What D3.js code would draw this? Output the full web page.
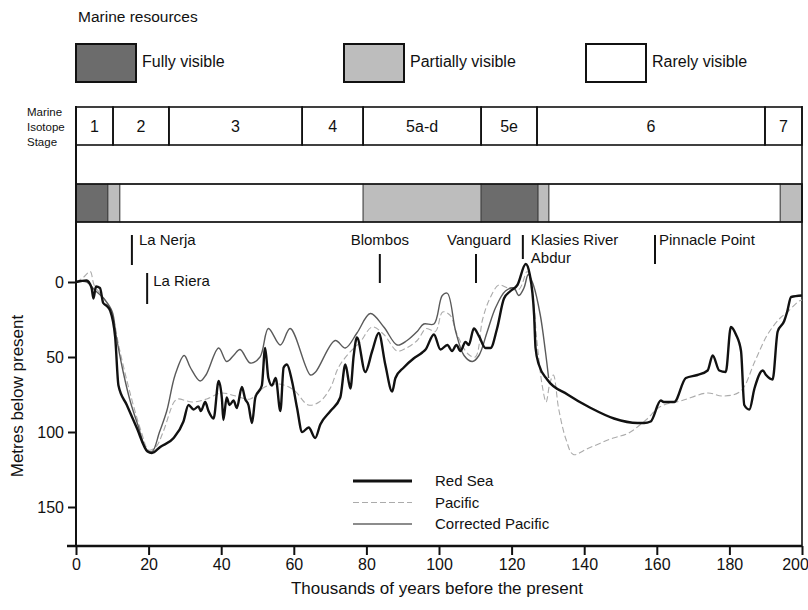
<!DOCTYPE html>
<html>
<head>
<meta charset="utf-8">
<script src="https://cdn.jsdelivr.net/npm/d3@7"></script>
<style>
  body { margin: 0; background: #fff; }
  text { font-family: "Liberation Sans", Arial, sans-serif; fill: #111; }
</style>
</head>
<body>
<div id="chart"></div>
<script>
// ---------------- data ----------------
var redSeaAge   = [0, 2.9, 4.3, 4.8, 5.5, 6.6, 7.5, 8.5, 9.4, 10.8, 11.7, 14, 16.7, 19.7, 20.9, 23.2, 26.9, 29.6, 31, 32.4, 33.7, 34.4, 35.6, 36.5, 37.9, 39.3, 40.2, 40.6, 41.5, 42.3, 43.4, 44.3, 45.7, 46.6, 47.5, 48.5, 49.4, 51.2, 52.1, 53, 54, 55, 56.3, 57.2, 58.1, 59.5, 60.9, 62.3, 64.1, 65.9, 67.3, 70.1, 72.8, 74.2, 75.6, 76.5, 77.4, 79.7, 81.6, 83.4, 85.2, 87.1, 88, 90.3, 93, 95.4, 96.3, 98.6, 100.4, 102.3, 103.6, 104.8, 105.9, 107.3, 108.2, 109.6, 111, 112.8, 114.2, 116, 117.9, 119.7, 121.6, 123.9, 125, 126.2, 126.6, 127.5, 129.8, 135.4, 141.8, 148.2, 154.7, 156.5, 158.3, 161.1, 161.9, 164.8, 168, 171.2, 174, 175.4, 177.2, 179, 180.4, 181.8, 183.2, 184.1, 185.5, 186.9, 189.2, 190.1, 191.9, 193.3, 195.1, 195.9, 197, 200];
var redSeaDepth = [0, -1, 4, 11, 3, 4, 14, 16, 19, 37, 69, 82, 97, 113, 114, 110, 104, 93, 82, 85, 83, 86, 80, 86, 91, 66, 78, 92, 77, 82, 79, 84, 70, 78, 82, 94, 77, 69, 44, 64, 69, 64, 86, 57, 55, 66, 84, 100, 97, 104, 95, 86, 77, 55, 71, 49, 37, 60, 46, 34, 55, 73, 64, 57, 51, 47, 45, 35, 45, 42, 46, 42, 46, 40, 42, 31, 36, 44, 44, 31, 11, 6, 2, -12, -5, 22, 44, 55, 65, 75, 84, 91, 94, 94, 93, 79, 80, 80, 64, 62, 59, 49, 59, 60, 30, 35, 46, 82, 85, 71, 59, 62, 65, 33, 26, 20, 10, 9];

var pacificAge   = [0, 2, 3.9, 5, 8, 10, 12, 15, 18, 20, 22, 24, 27, 28, 32, 36, 40, 44, 48, 52, 56, 60, 64, 67, 70, 72.3, 75, 78.3, 81.6, 84.8, 88.5, 91, 94, 96.5, 99, 101, 103, 105, 108, 110, 112, 114, 116.5, 119, 122, 124.3, 125.9, 127, 128.5, 129.5, 130.5, 131.5, 133, 135, 137, 141, 148, 152, 157, 161, 167, 174, 178, 183, 187, 190.5, 194, 196, 199, 200];
var pacificDepth = [0, -3, -7, 2, 12, 22, 45, 75, 100, 112, 110, 100, 80, 78, 80, 78, 74, 76, 78, 70, 68, 72, 82, 80, 71, 57, 48, 40, 30, 35, 46, 44, 39, 31, 33, 20, 22, 35, 48, 50, 25, 11, 2, 4, 5, -7, 11, 40, 70, 80, 68, 62, 85, 105, 115, 111, 104, 101, 92, 83, 79, 74, 76, 73, 53, 35, 24, 20, 13, 12];

var correctedAge   = [0, 3, 5, 8, 10, 11, 13, 15, 17, 19.5, 21, 23, 25, 27.3, 29.8, 31.5, 34.2, 35.8, 39.3, 41.5, 43.4, 45.2, 48, 50.7, 53, 56.3, 59, 64.6, 66, 71.4, 74.2, 77.4, 81.1, 84.8, 88.5, 91.2, 94, 95.8, 98.6, 100.9, 102.3, 104.6, 106.9, 109.2, 111, 113.3, 115.6, 118.3, 120.6, 122, 123.4, 124.6, 126, 127.9, 129.3, 130.2];
var correctedDepth = [0, 0, 5, 12, 20, 35, 60, 80, 95, 112, 113, 100, 86, 62, 49, 57, 66, 62, 44, 53, 49, 45, 54, 50, 31, 42, 31, 62, 60, 39, 44, 34, 21, 30, 42, 39, 33, 28, 28, 9, 7.5, 33, 49, 53, 49, 33, 17, 6, 4, 9, 4, -5, 2, 22, 46, 64];

var stageBounds = [0, 10.2, 25.6, 62.3, 79.1, 111.6, 127, 189.8, 200];
var stageLabels = ["1", "2", "3", "4", "5a-d", "5e", "6", "7"];

var visStart = [0, 8.8, 12.1, 79.1, 111.6, 127.3, 130.3, 194];
var visEnd   = [8.8, 12.1, 79.1, 111.6, 127.3, 130.3, 194, 200];
var visLevel = ["Fully visible", "Partially visible", "Rarely visible", "Partially visible", "Fully visible", "Partially visible", "Rarely visible", "Partially visible"];

var siteNames = ["La Nerja", "La Riera", "Blombos", "Vanguard", "Klasies River", "Pinnacle Point"];
var siteAge   = [15.4, 19.6, 83.7, 110.2, 123.1, 159.5];

var yTicks = [0, 50, 100, 150];
var xTicks = [0, 20, 40, 60, 80, 100, 120, 140, 160, 180, 200];

// ---------------- setup ----------------
var width = 808, height = 610;
var svg = d3.select("#chart").append("svg")
    .attr("width", width)
    .attr("height", height);

var x = d3.scaleLinear().domain([0, 200]).range([76, 802]);
var y = d3.scaleLinear().domain([0, 150]).range([282, 507]);
var axisY = 546;

var visColor = d3.scaleOrdinal()
    .domain(["Fully visible", "Partially visible", "Rarely visible"])
    .range(["#6c6c6c", "#bdbdbd", "#ffffff"]);

//---------- legend (marine resources) ----------
svg.append("text")
    .attr("x", 78).attr("y", 22)
    .style("font-size", "15.5px")
    .text("Marine resources");

var legX = [76, 344, 586];
visColor.domain().forEach(function(d, i) {
    svg.append("rect")
        .attr("x", legX[i]).attr("y", 44)
        .attr("width", 60).attr("height", 38)
        .attr("fill", visColor(d))
        .attr("stroke", "#111").attr("stroke-width", 2);
    svg.append("text")
        .attr("x", legX[i] + 66).attr("y", 67)
        .style("font-size", "16px")
        .text(d);
});

//---------- marine isotope stages ----------
var mis = svg.append("g");
mis.selectAll("rect")
    .data(stageLabels)
    .join("rect")
    .attr("x", (d, i) => x(stageBounds[i]))
    .attr("y", 107)
    .attr("width", (d, i) => x(stageBounds[i + 1]) - x(stageBounds[i]))
    .attr("height", 38)
    .attr("fill", "none")
    .attr("stroke", "#111")
    .attr("stroke-width", 1.6);
mis.selectAll("text")
    .data(stageLabels)
    .join("text")
    .attr("x", (d, i) => (x(stageBounds[i]) + x(stageBounds[i + 1])) / 2)
    .attr("y", 132)
    .attr("text-anchor", "middle")
    .style("font-size", "16px")
    .text(d => d);

["Marine", "Isotope", "Stage"].forEach(function(t, i) {
    svg.append("text")
        .attr("x", 27).attr("y", 116 + i * 15)
        .style("font-size", "11.5px")
        .text(t);
});

//---------- visibility bar ----------
svg.append("g").selectAll("rect")
    .data(visLevel)
    .join("rect")
    .attr("x", (d, i) => x(visStart[i]))
    .attr("y", 184)
    .attr("width", (d, i) => x(visEnd[i]) - x(visStart[i]))
    .attr("height", 38)
    .attr("fill", d => visColor(d))
    .attr("stroke", "#333")
    .attr("stroke-width", 0.8);

svg.append("rect")
    .attr("x", x(0)).attr("y", 184)
    .attr("width", x(200) - x(0)).attr("height", 38)
    .attr("fill", "none")
    .attr("stroke", "#111").attr("stroke-width", 1.6);

// frame sides
svg.append("line")
    .attr("x1", x(0)).attr("x2", x(0))
    .attr("y1", 106).attr("y2", axisY)
    .attr("stroke", "#111").attr("stroke-width", 2);
svg.append("line")
    .attr("x1", x(200)).attr("x2", x(200))
    .attr("y1", 106).attr("y2", axisY)
    .attr("stroke", "#111").attr("stroke-width", 1.6);

//---------- site markers ----------
var siteLayout = {
    "La Nerja":       { y1: 235, y2: 265, tx: 7,  ty: 245, anchor: "start" },
    "La Riera":       { y1: 273, y2: 304, tx: 6,  ty: 286, anchor: "start" },
    "Blombos":        { y1: 254, y2: 283, tx: 0,  ty: 245, anchor: "middle" },
    "Vanguard":       { y1: 254, y2: 283, tx: 3,  ty: 245, anchor: "middle" },
    "Klasies River":  { y1: 235, y2: 259, tx: 8,  ty: 245, anchor: "start" },
    "Pinnacle Point": { y1: 235, y2: 264, tx: 4,  ty: 245, anchor: "start" }
};
var sites = svg.append("g");
siteNames.forEach(function(name, i) {
    var L = siteLayout[name];
    sites.append("line")
        .attr("x1", x(siteAge[i])).attr("x2", x(siteAge[i]))
        .attr("y1", L.y1).attr("y2", L.y2)
        .attr("stroke", "#111").attr("stroke-width", 2);
    sites.append("text")
        .attr("x", x(siteAge[i]) + L.tx).attr("y", L.ty)
        .attr("text-anchor", L.anchor)
        .style("font-size", "15px")
        .text(name);
});
sites.append("text")
    .attr("x", x(siteAge[4]) + 8).attr("y", 263)
    .style("font-size", "15px")
    .text("Abdur");

//---------- sea level curves ----------
function zipSeries(ages, depths) {
    return ages.map((a, i) => [a, depths[i]]);
}
var sharp = d3.line().x(d => x(d[0])).y(d => y(d[1])).curve(d3.curveMonotoneX);
var smooth = d3.line().x(d => x(d[0])).y(d => y(d[1])).curve(d3.curveCatmullRom.alpha(0.5));

svg.append("path")
    .datum(zipSeries(pacificAge, pacificDepth))
    .attr("d", smooth)
    .attr("fill", "none")
    .attr("stroke", "#ababab")
    .attr("stroke-width", 1.1)
    .attr("stroke-dasharray", "6,3");

svg.append("path")
    .datum(zipSeries(correctedAge, correctedDepth))
    .attr("d", smooth)
    .attr("fill", "none")
    .attr("stroke", "#5a5a5a")
    .attr("stroke-width", 1.4);

svg.append("path")
    .datum(zipSeries(redSeaAge, redSeaDepth))
    .attr("d", sharp)
    .attr("fill", "none")
    .attr("stroke", "#111")
    .attr("stroke-width", 2.4)
    .attr("stroke-linejoin", "round");

//---------- axes ----------
var yAxis = svg.append("g")
    .attr("transform", "translate(" + x(0) + ",0)")
    .call(d3.axisLeft(y).tickValues(yTicks).tickSize(8).tickPadding(4));
yAxis.select(".domain").remove();
yAxis.selectAll(".tick line").attr("stroke", "#111").attr("stroke-width", 2);
yAxis.selectAll("text").style("font-size", "16px").style("font-family", "Liberation Sans, Arial, sans-serif");

var xAxis = svg.append("g")
    .attr("transform", "translate(0," + axisY + ")")
    .call(d3.axisBottom(x).tickValues(xTicks).tickSize(9).tickSizeOuter(0).tickPadding(4));
xAxis.select(".domain").attr("stroke", "#111").attr("stroke-width", 2.5).attr("d", "M" + (x(0) - 9) + ",0H" + x(200));
xAxis.selectAll(".tick line").attr("stroke", "#111").attr("stroke-width", 2);
xAxis.selectAll("text").style("font-size", "16px").style("font-family", "Liberation Sans, Arial, sans-serif");
// keep the last label inside the page
xAxis.selectAll(".tick text").filter(d => d === 200).attr("text-anchor", "end").attr("dx", "0.4em");

svg.append("text")
    .attr("x", 437).attr("y", 594)
    .attr("text-anchor", "middle")
    .style("font-size", "17px")
    .text("Thousands of years before the present");

svg.append("text")
    .attr("transform", "translate(23,396) rotate(-90)")
    .attr("text-anchor", "middle")
    .style("font-size", "17px")
    .text("Metres below present");

//---------- curve legend ----------
var legSeries = ["Red Sea", "Pacific", "Corrected Pacific"];
var legStyle = [
    { stroke: "#111", w: 3, dash: null },
    { stroke: "#ababab", w: 1.2, dash: "6,3" },
    { stroke: "#666", w: 1.6, dash: null }
];
legSeries.forEach(function(s, i) {
    var ly = 481 + i * 21.5;
    svg.append("line")
        .attr("x1", 353).attr("x2", 412)
        .attr("y1", ly).attr("y2", ly)
        .attr("stroke", legStyle[i].stroke)
        .attr("stroke-width", legStyle[i].w)
        .attr("stroke-dasharray", legStyle[i].dash);
    svg.append("text")
        .attr("x", 435).attr("y", ly + 5)
        .style("font-size", "15px")
        .text(s);
});
</script>
</body>
</html>
